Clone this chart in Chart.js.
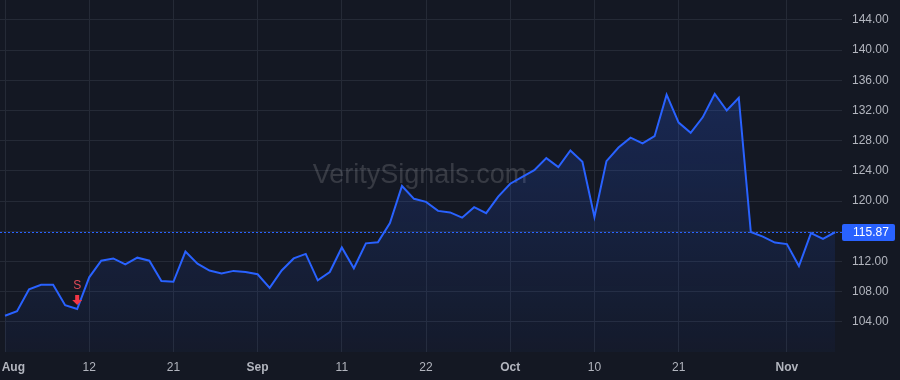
<!DOCTYPE html>
<html>
<head>
<meta charset="utf-8">
<script src="https://cdn.jsdelivr.net/npm/chart.js@4.4.1/dist/chart.umd.min.js"></script>
<style>
  html, body { margin: 0; padding: 0; background: #141823; }
  #wrap { width: 900px; height: 380px; position: relative; }
</style>
</head>
<body>
<div id="wrap"><canvas id="priceChart"></canvas></div>
<script>
// prix de cloture (un point par seance)
const prices = [
  104.8, 105.4, 108.3, 108.9, 108.9, 106.2, 105.7, 109.9, 112.1, 112.4,
  111.6, 112.5, 112.1, 109.4, 109.3, 113.3, 111.7, 110.8, 110.4, 110.75,
  110.6, 110.3, 108.5, 110.8, 112.4, 113.0, 109.5, 110.6, 113.85, 111.1,
  114.4, 114.55, 117.1, 122.0, 120.3, 119.9, 118.7, 118.5, 117.8, 119.2,
  118.4, 120.6, 122.3, 123.2, 124.1, 125.7, 124.5, 126.7, 125.2, 117.9,
  125.3, 127.1, 128.4, 127.65, 128.6, 134.1, 130.4, 129.05, 131.1, 134.2,
  132.0, 133.7, 115.9, 115.3, 114.5, 114.3, 111.4, 115.75, 115.0, 115.87
];

// graduations de l'axe du temps (index de seance -> libelle)
const xTickIndex = [0, 7, 14, 21, 28, 35, 42, 49, 56, 65];
const xTickLabels = ["Aug", "12", "21", "Sep", "11", "22", "Oct", "10", "21", "Nov"];
const monthLabels = ["Aug", "Sep", "Oct", "Nov"];

// graduations de l'axe des prix
const yTicks = [104, 108, 112, 116, 120, 124, 128, 132, 136, 140, 144];

// dernier prix + signal
const lastPrice = 115.87;
const signalIndex = [6];
const signalText = ["S"];

const FONT = "'Liberation Sans', Arial, sans-serif";
const BLUE = "#2962ff";
const TEXT = "#b2b5be";
const GRID = "#252a36";

const ctx = document.getElementById("priceChart").getContext("2d");

// Plugin : filigrane, ligne du dernier prix, étiquette et signaux
const overlayPlugin = {
  id: "overlay",
  beforeDatasetsDraw(chart) {
    const c = chart.ctx;
    c.save();
    c.font = "27px " + FONT;
    c.fillStyle = "rgba(255,255,255,0.15)";
    c.textAlign = "center";
    c.textBaseline = "alphabetic";
    c.fillText("VeritySignals.com", 420, 183);
    c.restore();
  },
  afterDatasetsDraw(chart) {
    const c = chart.ctx;
    const area = chart.chartArea;
    const x = chart.scales.x;
    const y = chart.scales.y;
    const py = Math.round(y.getPixelForValue(lastPrice)) + 0.5;

    // ligne pointillée du dernier prix
    c.save();
    c.strokeStyle = BLUE;
    c.lineWidth = 1;
    c.setLineDash([2, 2]);
    c.beginPath();
    c.moveTo(area.left, py);
    c.lineTo(area.right, py);
    c.stroke();
    c.restore();

    // étiquette du prix
    c.save();
    c.fillStyle = BLUE;
    c.beginPath();
    c.roundRect(area.right, py - 8.5, 53, 17, 2);
    c.fill();
    c.fillStyle = "#ffffff";
    c.font = "12px " + FONT;
    c.textAlign = "left";
    c.textBaseline = "middle";
    c.fillText(lastPrice.toFixed(2), area.right + 11, py + 0.5);
    c.restore();

    // signaux de vente
    signalIndex.forEach((idx, i) => {
      const sx = x.getPixelForValue(idx);
      const sy = y.getPixelForValue(prices[idx]);
      const tip = sy - 4;
      c.save();
      c.fillStyle = "#f23645";
      c.beginPath();
      c.rect(sx - 2, tip - 10, 4, 5);
      c.moveTo(sx - 5, tip - 5);
      c.lineTo(sx + 5, tip - 5);
      c.lineTo(sx, tip);
      c.closePath();
      c.fill();
      c.font = "12px " + FONT;
      c.textAlign = "center";
      c.textBaseline = "middle";
      c.fillStyle = "#e04a58";
      c.fillText(signalText[i], sx, tip - 19);
      c.restore();
    });
  }
};

const config = {
  type: "line",
  data: {
    datasets: [{
      data: prices.map((v, i) => ({ x: i, y: v })),
      borderColor: BLUE,
      borderWidth: 2,
      pointRadius: 0,
      tension: 0,
      fill: "start",
      backgroundColor: (context) => {
        const chart = context.chart;
        const area = chart.chartArea;
        if (!area) return "rgba(41,98,255,0.15)";
        const g = chart.ctx.createLinearGradient(0, area.top, 0, area.bottom);
        g.addColorStop(0, "rgba(41,98,255,0.28)");
        g.addColorStop(1, "rgba(41,98,255,0.04)");
        return g;
      }
    }]
  },
  options: {
    responsive: true,
    maintainAspectRatio: false,
    animation: false,
    layout: { padding: 0 },
    plugins: {
      legend: { display: false },
      tooltip: { enabled: false }
    },
    scales: {
      x: {
        type: "linear",
        min: -0.416,
        max: 69.58,
        afterBuildTicks: (scale) => {
          scale.ticks = xTickIndex.map((v) => ({ value: v }));
        },
        afterFit: (scale) => {
          scale.height = 28;
          scale.paddingLeft = 0;
          scale.paddingRight = 0;
        },
        grid: { color: GRID, drawTicks: false },
        border: { display: false },
        ticks: {
          autoSkip: false,
          maxRotation: 0,
          padding: 8,
          color: TEXT,
          callback: (v) => {
            const k = xTickIndex.indexOf(v);
            if (k < 0) return "";
            // premier libellé décalé vers la droite pour rester visible
            return k === 0 ? "     " + xTickLabels[k] : xTickLabels[k];
          },
          font: (c) => {
            const k = c.tick ? xTickIndex.indexOf(c.tick.value) : -1;
            const lbl = k >= 0 ? xTickLabels[k] : "";
            return { family: FONT, size: 12, weight: monthLabels.includes(lbl) ? "bold" : "normal" };
          }
        }
      },
      y: {
        position: "right",
        min: 100,
        max: 146.65,
        afterBuildTicks: (scale) => {
          scale.ticks = yTicks.map((v) => ({ value: v }));
        },
        afterFit: (scale) => {
          scale.width = 58;
          scale.paddingTop = 0;
          scale.paddingBottom = 0;
        },
        grid: { color: GRID, drawTicks: false },
        border: { display: false },
        ticks: {
          padding: 10,
          color: TEXT,
          font: { family: FONT, size: 12 },
          callback: (v) => v.toFixed(2)
        }
      }
    }
  },
  plugins: [overlayPlugin]
};

const priceChart = new Chart(ctx, config);
</script>
</body>
</html>
